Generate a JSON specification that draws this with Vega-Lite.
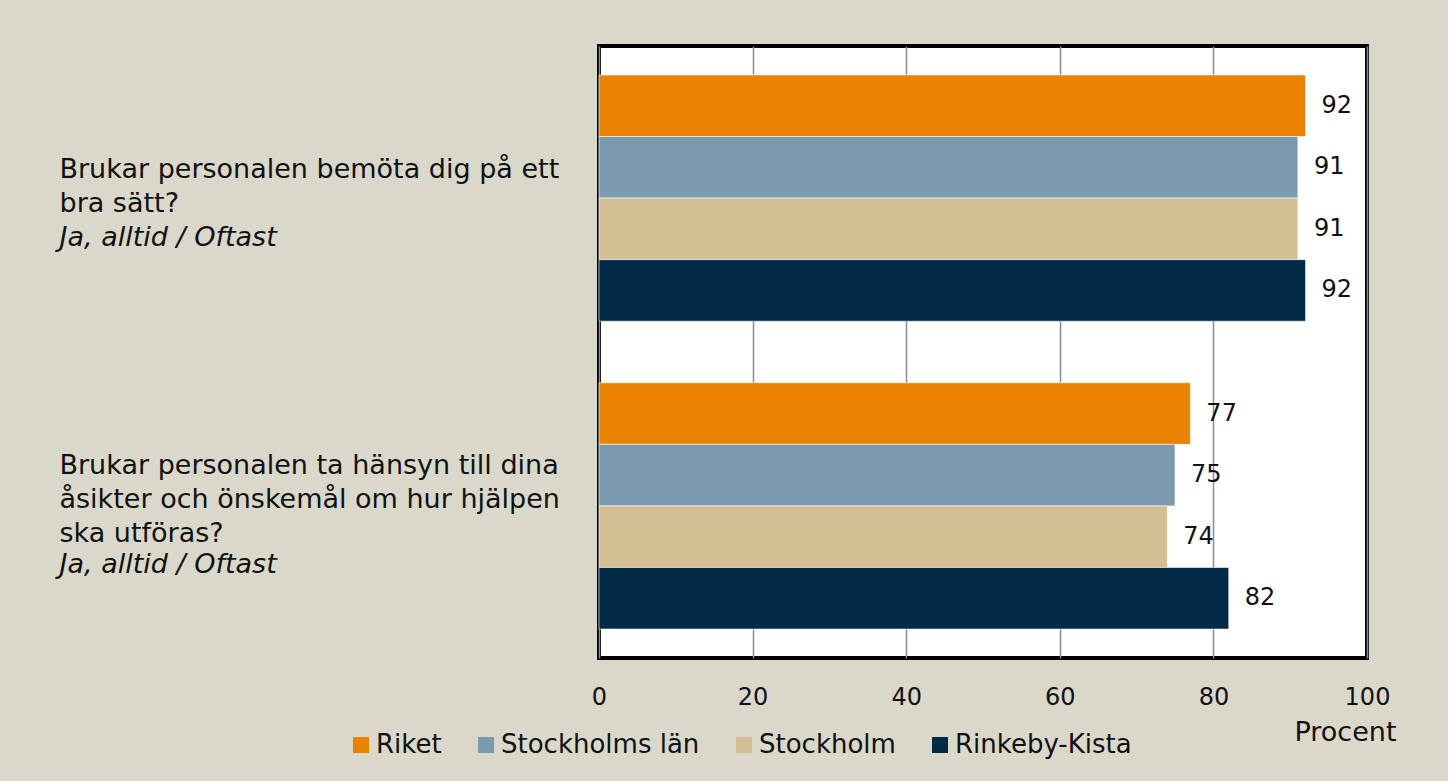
{
  "$schema": "https://vega.github.io/schema/vega-lite/v6.json",
  "autosize": {"type": "none"},
  "padding": {"left": 599, "top": 46, "right": 81, "bottom": 123},
  "width": 768,
  "height": 612,
  "background": "#dad8cb",
  "config": {
    "font": "DejaVu Sans",
    "view": {"stroke": "#000000", "strokeWidth": 4, "fill": "#ffffff"},
    "text": {"font": "DejaVu Sans"}
  },
  "data": {
    "values": [
      {"question": "Brukar personalen bemöta dig på ett|bra sätt?", "region": "Riket", "value": 92},
      {"question": "Brukar personalen bemöta dig på ett|bra sätt?", "region": "Stockholms län", "value": 91},
      {"question": "Brukar personalen bemöta dig på ett|bra sätt?", "region": "Stockholm", "value": 91},
      {"question": "Brukar personalen bemöta dig på ett|bra sätt?", "region": "Rinkeby-Kista", "value": 92},
      {"question": "Brukar personalen ta hänsyn till dina|åsikter och önskemål om hur hjälpen|ska utföras?", "region": "Riket", "value": 77},
      {"question": "Brukar personalen ta hänsyn till dina|åsikter och önskemål om hur hjälpen|ska utföras?", "region": "Stockholms län", "value": 75},
      {"question": "Brukar personalen ta hänsyn till dina|åsikter och önskemål om hur hjälpen|ska utföras?", "region": "Stockholm", "value": 74},
      {"question": "Brukar personalen ta hänsyn till dina|åsikter och önskemål om hur hjälpen|ska utföras?", "region": "Rinkeby-Kista", "value": 82}
    ]
  },
  "encoding": {
    "y": {
      "field": "question",
      "type": "nominal",
      "sort": null,
      "scale": {"paddingInner": 0.2, "paddingOuter": 0.094}
    },
    "yOffset": {
      "field": "region",
      "type": "nominal",
      "sort": ["Riket", "Stockholms län", "Stockholm", "Rinkeby-Kista"],
      "scale": {"paddingInner": 0, "paddingOuter": 0}
    },
    "x": {
      "field": "value",
      "type": "quantitative",
      "scale": {"domain": [0, 100], "nice": false}
    }
  },
  "layer": [
    {
      "mark": {"type": "bar", "stroke": "#ffffff", "strokeWidth": 0.6},
      "encoding": {
        "y": {
          "field": "question",
          "type": "nominal",
          "sort": null,
          "axis": {
            "orient": "left",
            "title": null,
            "domain": false,
            "ticks": false,
            "tickSize": 0,
            "labelAlign": "left",
            "labelBaseline": "middle",
            "labelPadding": 540,
            "labelOffset": {"condition": {"test": "indexof(datum.value, 'bemöta') >= 0", "value": -28}, "value": -40},
            "labelLimit": 0,
            "labelFontSize": 27,
            "labelLineHeight": 34,
            "labelColor": "#111111",
            "labelExpr": "split(datum.value, '|')"
          }
        },
        "x": {
          "field": "value",
          "type": "quantitative",
          "axis": {
            "title": "Procent",
            "values": [0, 20, 40, 60, 80, 100],
            "grid": true,
            "gridColor": "#8c8c8c",
            "gridWidth": 1.5,
            "domain": false,
            "ticks": false,
            "tickSize": 0,
            "labelFontSize": 24,
            "labelColor": "#111111",
            "labelBaseline": "middle",
            "labelPadding": 39,
            "labelFlush": false,
            "titleFontSize": 27,
            "titleFontWeight": "normal",
            "titleColor": "#111111",
            "titleX": 746,
            "titleY": 74,
            "titleAlign": "center",
            "titleBaseline": "middle"
          }
        },
        "color": {
          "field": "region",
          "type": "nominal",
          "sort": ["Riket", "Stockholms län", "Stockholm", "Rinkeby-Kista"],
          "scale": {
            "domain": ["Riket", "Stockholms län", "Stockholm", "Rinkeby-Kista"],
            "range": ["#e98300", "#7b9aad", "#d4bf95", "#002a45"]
          },
          "legend": {
            "title": null,
            "orient": "none",
            "legendX": -251,
            "legendY": 686,
            "direction": "horizontal",
            "columns": 4,
            "columnPadding": 31,
            "symbolType": "square",
            "symbolSize": 256,
            "symbolStrokeWidth": 0,
            "labelFontSize": 26,
            "labelColor": "#111111",
            "labelOffset": 2,
            "labelLimit": 0
          }
        }
      }
    },
    {
      "mark": {"type": "text", "align": "left", "baseline": "middle", "dx": 16, "fontSize": 24, "color": "#111111"},
      "encoding": {
        "text": {"field": "value", "type": "quantitative"},
        "y": {
          "field": "question",
          "type": "nominal",
          "sort": null,
          "axis": {
            "orient": "left",
            "title": null,
            "domain": false,
            "ticks": false,
            "tickSize": 0,
            "grid": false,
            "labelAlign": "left",
            "labelBaseline": "middle",
            "labelPadding": 540,
            "labelOffset": {"condition": {"test": "indexof(datum.value, 'bemöta') >= 0", "value": 40}, "value": 59},
            "labelLimit": 0,
            "labelFontSize": 27,
            "labelFontStyle": "italic",
            "labelColor": "#111111",
            "labelExpr": "'Ja, alltid / Oftast'"
          }
        }
      }
    }
  ],
  "resolve": {"axis": {"y": "independent"}}
}
